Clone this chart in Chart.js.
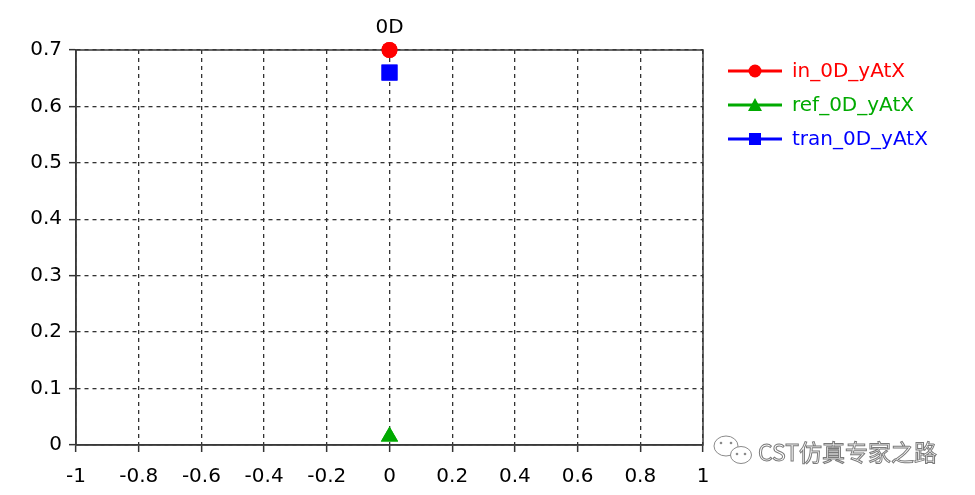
<!DOCTYPE html>
<html>
<head>
<meta charset="utf-8">
<script src="https://cdn.jsdelivr.net/npm/chart.js@4/dist/chart.umd.min.js"></script>
<style>
    html, body { margin: 0; padding: 0; background: #fff; }
    #wrap { width: 975px; height: 495px; position: relative; }
</style>
</head>
<body>
<div id="wrap"><canvas id="chart"></canvas></div>
<script>
const xValues = [0];
const inValues = [0.7];
const refValues = [0.015];
const tranValues = [0.66];
const seriesLabels = ['in_0D_yAtX', 'ref_0D_yAtX', 'tran_0D_yAtX'];
const xTickValues = [-1, -0.8, -0.6, -0.4, -0.2, 0, 0.2, 0.4, 0.6, 0.8, 1];
const yTickValues = [0, 0.1, 0.2, 0.3, 0.4, 0.5, 0.6, 0.7];
const titleText = '0D';
const watermarkText = 'CST仿真专家之路';

const FONT = '"DejaVu Sans", Verdana, sans-serif';

const toPoints = (ys) => xValues.map((x, i) => ({ x, y: ys[i] }));

// draws the solid frame, the line+marker legend and the watermark
const decorations = {
    id: 'decorations',
    afterDraw(chart) {
        const { ctx, chartArea } = chart;
        ctx.save();
        ctx.strokeStyle = '#3a3a3a';
        ctx.lineWidth = 1.5;
        ctx.setLineDash([]);
        ctx.strokeRect(chartArea.left, chartArea.top, chartArea.right - chartArea.left, chartArea.bottom - chartArea.top);
        ctx.restore();

        // redraw markers above the frame
        chart.data.datasets.forEach((ds, i) => {
            const meta = chart.getDatasetMeta(i);
            meta.data.forEach((el) => el.draw(ctx));
        });

        ctx.save();
        chart.data.datasets.forEach((ds, i) => {
            const y = 71 + i * 34;
            const x1 = 728;
            const x2 = 782;
            const mx = (x1 + x2) / 2;
            ctx.strokeStyle = ds.borderColor;
            ctx.fillStyle = ds.backgroundColor;
            ctx.lineWidth = 3;
            ctx.beginPath();
            ctx.moveTo(x1, y);
            ctx.lineTo(x2, y);
            ctx.stroke();
            ctx.beginPath();
            if (ds.pointStyle === 'circle') {
                ctx.arc(mx, y, 6.5, 0, Math.PI * 2);
            } else if (ds.pointStyle === 'triangle') {
                ctx.moveTo(mx, y - 7);
                ctx.lineTo(mx + 7, y + 6);
                ctx.lineTo(mx - 7, y + 6);
                ctx.closePath();
            } else {
                ctx.rect(mx - 6, y - 6, 12, 12);
            }
            ctx.fill();
            ctx.font = '20px ' + FONT;
            ctx.textBaseline = 'middle';
            ctx.textAlign = 'left';
            ctx.fillText(ds.label, 792, y + 1);
        });
        ctx.restore();

        // watermark
        ctx.save();
        ctx.strokeStyle = '#8a8a8a';
        ctx.fillStyle = '#fff';
        ctx.lineWidth = 1;
        ctx.beginPath();
        ctx.ellipse(726, 446, 12, 10, 0, 0, Math.PI * 2);
        ctx.fill();
        ctx.stroke();
        ctx.beginPath();
        ctx.ellipse(741, 455, 10.5, 8.5, 0, 0, Math.PI * 2);
        ctx.fill();
        ctx.stroke();
        ctx.fillStyle = '#8a8a8a';
        [[721, 443], [731, 443], [737, 454], [745, 454]].forEach(([px, py]) => {
            ctx.beginPath();
            ctx.arc(px, py, 1.3, 0, Math.PI * 2);
            ctx.fill();
        });
        ctx.font = '23px "Noto Sans CJK SC", ' + FONT;
        ctx.textBaseline = 'middle';
        ctx.fillStyle = '#fff';
        ctx.strokeStyle = '#7a7a7a';
        ctx.lineWidth = 1;
        ctx.fillText(watermarkText, 758, 452);
        ctx.strokeText(watermarkText, 758, 452);
        ctx.restore();
    },
};

new Chart(document.getElementById('chart'), {
    type: 'scatter',
    data: {
        datasets: [
            {
                label: seriesLabels[0],
                data: toPoints(inValues),
                pointStyle: 'circle',
                pointRadius: 8,
                backgroundColor: '#ff0000',
                borderColor: '#ff0000',
                borderWidth: 0,
                clip: false,
            },
            {
                label: seriesLabels[1],
                data: toPoints(refValues),
                pointStyle: 'triangle',
                pointRadius: 10,
                backgroundColor: '#00aa00',
                borderColor: '#00aa00',
                borderWidth: 0,
                clip: false,
            },
            {
                label: seriesLabels[2],
                data: toPoints(tranValues),
                pointStyle: 'rect',
                pointRadius: 11.3,
                backgroundColor: '#0000ff',
                borderColor: '#0000ff',
                borderWidth: 0,
                clip: false,
            },
        ],
    },
    options: {
        responsive: true,
        maintainAspectRatio: false,
        animation: false,
        layout: { padding: { top: 0, right: 272, bottom: 0, left: 0 } },
        plugins: {
            legend: { display: false },
            tooltip: { enabled: false },
            title: {
                display: true,
                text: titleText,
                fullSize: false,
                color: '#000',
                font: { family: FONT, size: 20, weight: 'normal' },
                padding: { top: 16, bottom: 10 },
            },
        },
        scales: {
            x: {
                type: 'linear',
                min: -1,
                max: 1,
                afterBuildTicks: (scale) => { scale.ticks = xTickValues.map((v) => ({ value: v })); },
                afterFit: (scale) => { scale.height = 50; },
                grid: {
                    color: '#333',
                    lineWidth: 1.3,
                    tickLength: 7,
                    tickColor: '#333',
                    tickWidth: 1.5,
                    tickBorderDash: [],
                },
                border: { display: true, color: '#3a3a3a', width: 1.5, dash: [4, 4] },
                ticks: {
                    color: '#000',
                    padding: 13,
                    font: { family: FONT, size: 20 },
                    maxRotation: 0,
                    autoSkip: false,
                    callback: (v) => String(v),
                },
            },
            y: {
                type: 'linear',
                min: 0,
                max: 0.7,
                afterBuildTicks: (scale) => { scale.ticks = yTickValues.map((v) => ({ value: v })); },
                afterFit: (scale) => { scale.width = 76; },
                grid: {
                    color: '#333',
                    lineWidth: 1.3,
                    tickLength: 7,
                    tickColor: '#333',
                    tickWidth: 1.5,
                    tickBorderDash: [],
                },
                border: { display: true, color: '#3a3a3a', width: 1.5, dash: [4, 4] },
                ticks: {
                    color: '#000',
                    padding: 7,
                    font: { family: FONT, size: 20 },
                    autoSkip: false,
                    callback: (v) => String(v),
                },
            },
        },
    },
    plugins: [decorations],
});
</script>
</body>
</html>
